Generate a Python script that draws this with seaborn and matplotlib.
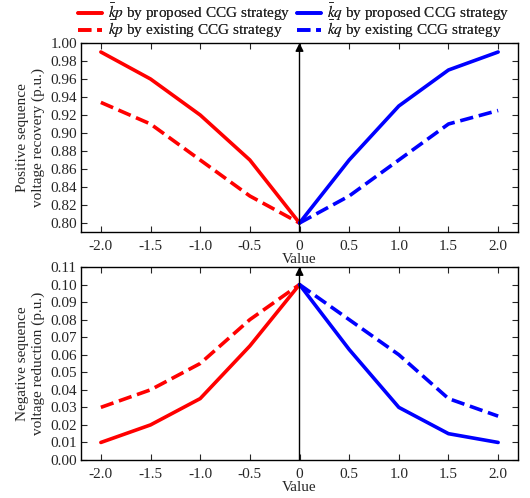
import matplotlib
matplotlib.use("Agg")
import matplotlib.pyplot as plt
import seaborn as sns
import pandas as pd

# Data
x_neg = [-2.0, -1.5, -1.0, -0.5, 0.0]
x_pos = [0.0, 0.5, 1.0, 1.5, 2.0]
xticks = [-2.0, -1.5, -1.0, -0.5, 0.0, 0.5, 1.0, 1.5, 2.0]
xticklabels = ["-2.0", "-1.5", "-1.0", "-0.5", "0", "0.5", "1.0", "1.5", "2.0"]

pos_kp_prop = [0.99, 0.96, 0.92, 0.87, 0.80]
pos_kp_exist = [0.934, 0.91, 0.87, 0.83, 0.80]
pos_kq_prop = [0.80, 0.87, 0.93, 0.97, 0.99]
pos_kq_exist = [0.80, 0.83, 0.87, 0.91, 0.925]

neg_kp_prop = [0.01, 0.02, 0.035, 0.065, 0.10]
neg_kp_exist = [0.03, 0.04, 0.055, 0.08, 0.10]
neg_kq_prop = [0.10, 0.063, 0.03, 0.015, 0.01]
neg_kq_exist = [0.10, 0.08, 0.06, 0.035, 0.025]

labels = [r"$\bar{k}p$ by proposed CCG strategy",
          r"$\bar{k}p$ by existing CCG strategy",
          r"$\bar{k}q$ by proposed CCG strategy",
          r"$\bar{k}q$ by existing CCG strategy"]

sns.set_style("ticks")
plt.rcParams["font.family"] = ["Liberation Serif", "DejaVu Serif"]
plt.rcParams["mathtext.fontset"] = "stix"
plt.rcParams["font.size"] = 11

fig = plt.figure(figsize=(5.30, 4.98), dpi=100)
L, R = 81 / 530, 518 / 530
ax1 = fig.add_axes([L, 1 - 232 / 498, R - L, (232 - 43) / 498])
ax2 = fig.add_axes([L, 1 - 460 / 498, R - L, (460 - 267) / 498])

def draw(ax, series, ylim, yticks, ylabel):
    styles = [("red", "-"), ("red", "--"), ("blue", "-"), ("blue", "--")]
    xs = [x_neg, x_neg, x_pos, x_pos]
    for (c, ls), xv, yv, lab in zip(styles, xs, series, labels):
        df = pd.DataFrame({"x": xv, "y": yv})
        sns.lineplot(data=df, x="x", y="y", ax=ax, color=c, linestyle=ls,
                     linewidth=2.6, label=lab, legend=False)
    ax.set_xlim(-2.2, 2.2)
    ax.set_ylim(*ylim)
    ax.set_xticks(xticks)
    ax.set_xticklabels(xticklabels)
    ax.set_yticks(yticks)
    ax.set_yticklabels(["%.2f" % v for v in yticks])
    ax.tick_params(direction="in", top=True, right=True, length=4, width=0.8,
                   labelsize=11)
    ax.tick_params(axis="x", pad=6)
    ax.tick_params(axis="y", pad=3)
    for s in ax.spines.values():
        s.set_linewidth(1.0)
        s.set_color("black")
    ax.set_xlabel("Value", fontsize=11, labelpad=0)
    ax.set_ylabel(ylabel, fontsize=11, labelpad=4)
    ax.annotate("", xy=(0, ylim[1]), xytext=(0, ylim[0]),
                arrowprops=dict(arrowstyle="-|>", color="black", lw=1.0,
                                mutation_scale=12, shrinkA=0, shrinkB=0))

draw(ax1, [pos_kp_prop, pos_kp_exist, pos_kq_prop, pos_kq_exist], (0.79, 1.00),
     [0.80, 0.82, 0.84, 0.86, 0.88, 0.90, 0.92, 0.94, 0.96, 0.98, 1.00],
     "Positive sequence\nvoltage recovery (p.u.)")
draw(ax2, [neg_kp_prop, neg_kp_exist, neg_kq_prop, neg_kq_exist], (0.0, 0.11),
     [0.00, 0.01, 0.02, 0.03, 0.04, 0.05, 0.06, 0.07, 0.08, 0.09, 0.10, 0.11],
     "Negative sequence\nvoltage reduction (p.u.)")

h, l = ax1.get_legend_handles_labels()
# legend entries placed in a 2x2 grid above the top panel
positions = [(78 / 530, 1 - 12 / 498), (78 / 530, 1 - 29 / 498),
             (297 / 530, 1 - 12 / 498), (297 / 530, 1 - 29 / 498)]
for hi, li, pos in zip(h, l, positions):
    lg = fig.legend([hi], [li], loc="center left", bbox_to_anchor=pos,
                    frameon=False, fontsize=11, handlelength=1.6,
                    handletextpad=0.35, borderpad=0.0, borderaxespad=0.0)
    fig.add_artist(lg)

fig.savefig("out.png", dpi=100)
